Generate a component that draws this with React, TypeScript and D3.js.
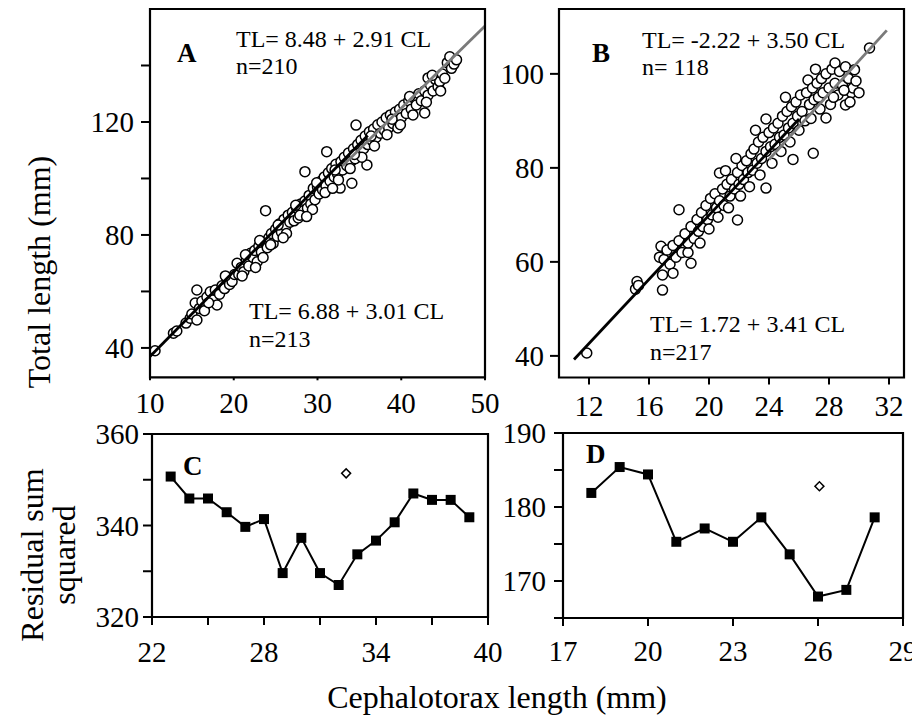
import React from "react";
import * as d3 from "d3";

// ---------- DATA ----------
// Panel A scatter: [cephalotorax length, total length]
const scatterA: [number, number][] = [
  [10.6,39.0],[12.8,45.2],[13.2,46.0],[14.3,48.8],[14.8,50.5],[15.0,52.0],[15.4,55.9],[15.6,49.9],[15.6,60.5],[15.9,54.0],
  [16.2,56.5],[16.5,53.2],[16.8,58.0],[17.2,59.9],[17.5,57.0],[17.8,60.5],[18.0,55.2],[18.3,59.0],[18.6,62.0],[18.9,61.0],
  [19.2,64.5],[19.5,62.5],[19.8,63.5],[20.1,66.0],[20.4,70.0],[20.6,66.0],[20.9,68.5],[21.2,67.0],[21.5,71.0],[21.8,69.0],
  [22.0,73.5],[22.3,72.0],[22.5,74.5],[22.8,70.5],[23.0,76.0],[23.3,74.0],[23.6,77.5],[23.8,88.6],[24.0,75.5],[24.2,79.0],
  [24.5,80.5],[24.7,77.0],[25.0,82.0],[25.2,79.5],[25.5,84.0],[25.7,81.0],[26.0,85.5],[26.2,83.0],[26.5,87.0],[26.7,84.5],
  [27.0,88.0],[27.2,85.0],[27.5,89.5],[27.7,86.0],[28.0,91.0],[28.2,88.5],[28.5,102.4],[28.5,92.0],[28.8,89.5],[29.0,94.0],
  [29.2,91.0],[29.5,96.5],[29.7,92.5],[30.0,97.0],[30.2,94.5],[30.4,99.0],[30.6,96.0],[30.8,100.5],[31.1,109.5],[31.0,97.5],
  [31.3,102.0],[31.5,99.0],[31.7,103.5],[32.0,100.5],[32.2,105.0],[32.4,101.5],[32.7,96.6],[32.8,106.0],[33.0,103.0],[33.2,107.5],
  [33.5,104.5],[33.7,109.0],[34.0,106.0],[34.1,98.3],[34.3,110.5],[34.6,118.9],[34.5,107.0],[34.8,112.0],[35.0,109.0],[35.2,113.5],
  [35.5,110.5],[35.7,115.0],[35.9,104.8],[36.0,112.0],[36.2,116.5],[36.5,113.5],[36.7,117.5],[37.0,114.5],[37.2,119.0],[37.5,116.0],
  [37.7,120.0],[38.0,117.0],[38.2,121.5],[38.5,118.0],[38.7,122.5],[39.0,119.5],[39.3,123.5],[39.6,117.9],[39.8,124.5],[40.0,121.5],
  [40.3,126.0],[40.6,123.0],[40.9,127.5],[41.2,124.5],[41.5,128.5],[41.8,126.0],[42.1,130.0],[42.4,127.5],[42.8,123.2],[42.8,131.0],
  [43.2,135.6],[43.2,129.5],[43.5,133.0],[43.8,131.0],[44.1,135.0],[44.4,132.5],[44.6,134.3],[44.9,137.0],[45.2,135.5],[45.5,141.0],
  [45.8,143.1],[46.0,139.0],[46.3,140.5],[46.6,142.0],
  [21.0,65.5],[22.6,68.5],[24.4,76.5],[26.3,80.5],[27.9,87.0],[29.4,89.0],[30.9,95.0],[32.5,99.5],[33.9,103.5],[35.3,107.5],
  [36.8,111.5],[38.3,115.5],[39.9,119.0],[41.4,122.5],[43.0,127.0],[44.7,131.0],[23.5,72.0],[25.9,79.0],[28.7,86.5],[31.8,96.5],
  [17.0,56.0],[19.0,65.5],[21.4,73.0],[23.1,78.0],[25.3,83.5],[27.4,90.5],[29.9,98.5],[32.1,103.0],[34.4,108.5],[36.4,115.0],
  [38.9,121.0],[41.0,129.0],[43.7,136.5]
];

// Panel B scatter: [cephalotorax length, total length]
const scatterB: [number, number][] = [
  [11.85,40.6],[15.1,54.2],[15.2,55.8],[15.3,55.0],[16.7,61.0],[16.8,63.3],[16.9,54.0],[16.9,57.2],[17.0,60.5],[17.2,62.5],
  [17.4,59.5],[17.6,57.6],[17.6,63.5],[17.8,61.0],[18.0,71.1],[18.0,64.5],[18.2,62.0],[18.4,66.0],[18.6,62.0],[18.6,64.0],
  [18.8,59.7],[18.8,67.5],[19.0,65.0],[19.2,69.0],[19.3,66.5],[19.5,70.5],[19.6,67.5],[19.8,72.0],[19.9,69.0],[20.1,73.5],
  [20.2,70.0],[20.4,74.5],[20.5,71.5],[20.7,78.9],[20.7,73.0],[20.9,75.5],[21.0,72.0],[21.1,79.4],[21.2,76.5],[21.4,74.0],
  [21.5,77.5],[21.7,75.5],[21.9,68.9],[21.9,79.0],[22.0,76.5],[22.2,80.5],[22.3,77.5],[22.5,81.5],[22.6,79.0],[22.8,83.0],
  [22.9,79.5],[23.0,84.0],[23.2,81.0],[23.3,85.5],[23.5,82.0],[23.6,86.5],[23.8,75.7],[23.8,90.4],[23.8,83.5],[24.0,87.5],
  [24.1,84.5],[24.3,88.5],[24.4,85.0],[24.6,89.5],[24.7,86.5],[24.9,91.0],[25.0,87.0],[25.2,92.0],[25.3,88.5],[25.5,93.0],
  [25.6,81.8],[25.6,89.5],[25.8,94.0],[25.9,91.0],[26.1,95.5],[26.2,92.0],[26.4,90.0],[26.6,98.7],[26.5,96.0],[26.7,93.5],
  [26.9,97.0],[26.95,83.1],[27.0,94.5],[27.2,98.0],[27.3,95.0],[27.5,99.0],[27.6,96.0],[27.8,90.6],[27.8,100.0],[28.0,97.0],
  [28.1,93.5],[28.2,101.0],[28.4,102.3],[28.4,98.0],[28.6,95.5],[28.7,100.5],[28.9,97.5],[29.1,93.4],[29.1,101.5],[29.3,99.0],
  [29.5,96.0],[29.6,97.0],[29.7,100.9],[29.8,98.5],[30.0,96.0],[30.7,105.5],
  [19.4,64.0],[20.0,67.0],[20.6,69.5],[21.3,71.5],[22.1,74.0],[22.7,76.0],[23.4,78.5],[24.2,81.0],[24.8,83.5],[25.4,85.5],
  [26.0,88.0],[26.8,90.5],[27.4,92.5],[28.3,95.0],[29.0,96.5],[29.4,94.0],[23.1,88.0],[21.8,82.0],[25.1,95.0],[27.1,101.0]
];

// Regression lines (intercept, slope, CL start, CL end)
const linesA = [
  { a: 6.88, b: 3.01, from: 10, to: 36, color: "#000" },
  { a: 8.48, b: 2.91, from: 33, to: 50, color: "#7a7a7a" },
];
const linesB = [
  { a: 1.72, b: 3.41, from: 11, to: 26, color: "#000" },
  { a: -2.22, b: 3.5, from: 24, to: 31.85, color: "#7a7a7a" },
];

// Panel C: residual sum squared
const cX = [23, 24, 25, 26, 27, 28, 29, 30, 31, 32, 33, 34, 35, 36, 37, 38, 39];
const cY = [350.7, 345.9, 345.9, 342.9, 339.7, 341.4, 329.6, 337.3, 329.6, 327.0, 333.7, 336.7, 340.7, 347.0, 345.6, 345.6, 341.8];
const cDiamond: [number, number] = [32.4, 351.4];

// Panel D: residual sum squared
const dX = [18, 19, 20, 21, 22, 23, 24, 25, 26, 27, 28];
const dY = [181.9, 185.4, 184.4, 175.3, 177.1, 175.3, 178.6, 173.6, 167.9, 168.8, 178.6];
const dDiamond: [number, number] = [26.05, 182.8];

// Ticks
const aXTicks = [10, 20, 30, 40, 50];
const aYTicks = [40, 60, 80, 100, 120, 140];
const aYLabels = [40, 80, 120];
const bXTicks = [12, 16, 20, 24, 28, 32];
const bYTicks = [40, 60, 80, 100];
const cXTicks = [22, 25, 28, 31, 34, 37, 40];
const cXLabels = [22, 28, 34, 40];
const cYTicks = [320, 330, 340, 350, 360];
const cYLabels = [320, 340, 360];
const dXTicks = [17, 20, 23, 26, 29];
const dYTicks = [165, 170, 175, 180, 185, 190];
const dYLabels = [170, 180, 190];

const FONT = "'Liberation Serif', 'Times New Roman', serif";
const TICK_FS = 29;
const EQ_FS = 24;

type Scale = d3.ScaleLinear<number, number>;

function Frame({ x, y }: { x: Scale; y: Scale }) {
  const [x0, x1] = x.range();
  const [y0, y1] = y.range();
  return (
    <path d={`M${x0},${y1}V${y0}H${x1}V${y1}Z`} fill="none" stroke="#000" strokeWidth={2.2} />
  );
}

function YAxis({ x, y, ticks, labels, len, labelX }: { x: Scale; y: Scale; ticks: number[]; labels: number[]; len: number; labelX: number }) {
  const x0 = x.range()[0];
  return (
    <g>
      {ticks.map((t) => (
        <line key={t} x1={x0 - len} x2={x0} y1={y(t)} y2={y(t)} stroke="#000" strokeWidth={2} />
      ))}
      {labels.map((t) => (
        <text key={t} x={labelX} y={y(t)} dy="0.35em" textAnchor="end" fontSize={TICK_FS} fontFamily={FONT}>
          {t}
        </text>
      ))}
    </g>
  );
}

function XAxis({ x, y, ticks, labels, len, labelY }: { x: Scale; y: Scale; ticks: number[]; labels: number[]; len: number; labelY: number }) {
  const y0 = y.range()[0];
  return (
    <g>
      {ticks.map((t) => (
        <line key={t} x1={x(t)} x2={x(t)} y1={y0} y2={y0 + len} stroke="#000" strokeWidth={2} />
      ))}
      {labels.map((t) => (
        <text key={t} x={x(t)} y={labelY} textAnchor="middle" fontSize={TICK_FS} fontFamily={FONT}>
          {t}
        </text>
      ))}
    </g>
  );
}

function Scatter({ x, y, data, lines }: { x: Scale; y: Scale; data: [number, number][]; lines: typeof linesA }) {
  return (
    <g>
      {data.map(([cl, tl], i) => (
        <circle key={i} cx={x(cl)} cy={y(tl)} r={5} fill="#fff" stroke="#000" strokeWidth={1.5} />
      ))}
      {lines.map((l, i) => {
        const pts: [number, number][] = [l.from, l.to].map((c) => [x(c), y(l.a + l.b * c)]);
        return <path key={i} d={d3.line()(pts) || ""} stroke={l.color} strokeWidth={2.8} fill="none" />;
      })}
    </g>
  );
}

function Residual({ x, y, xs, ys, diamond }: { x: Scale; y: Scale; xs: number[]; ys: number[]; diamond: [number, number] }) {
  const pts: [number, number][] = xs.map((v, i) => [x(v), y(ys[i])]);
  const sq = d3.symbol().type(d3.symbolSquare).size(100)();
  const dm = d3.symbol().type(d3.symbolSquare).size(40)();
  return (
    <g>
      <path d={d3.line()(pts) || ""} fill="none" stroke="#000" strokeWidth={2} />
      {pts.map(([px, py], i) => (
        <path key={i} d={sq || ""} transform={`translate(${px},${py})`} fill="#000" />
      ))}
      <path d={dm || ""} transform={`translate(${x(diamond[0])},${y(diamond[1])}) rotate(45)`} fill="#fff" stroke="#000" strokeWidth={1.5} />
    </g>
  );
}

export default function App() {
  const xA = d3.scaleLinear().domain([10, 50]).range([150, 485]);
  const yA = d3.scaleLinear().domain([29.6, 160]).range([377.3, 9]);
  const xB = d3.scaleLinear().domain([10, 33]).range([559, 904]);
  const yB = d3.scaleLinear().domain([35.4, 113.8]).range([377.5, 9]);
  const xC = d3.scaleLinear().domain([22, 40]).range([152, 488]);
  const yC = d3.scaleLinear().domain([320, 360]).range([617, 434]);
  const xD = d3.scaleLinear().domain([17, 29]).range([563, 903]);
  const yD = d3.scaleLinear().domain([165, 190]).range([618, 433]);

  const eq = (x: number, y: number, t: string) => (
    <text x={x} y={y} fontSize={EQ_FS} fontFamily={FONT}>{t}</text>
  );
  const letter = (x: number, y: number, t: string) => (
    <text x={x} y={y} fontSize={27} fontWeight="bold" fontFamily={FONT}>{t}</text>
  );

  return (
    <svg width={912} height={724} style={{ position: "absolute", left: 0, top: 0, background: "#fff" }}>
      <rect width={912} height={724} fill="#fff" />
      {/* Panel A */}
      <Scatter x={xA} y={yA} data={scatterA} lines={linesA} />
      <Frame x={xA} y={yA} />
      <YAxis x={xA} y={yA} ticks={aYTicks} labels={aYLabels} len={9} labelX={134} />
      <XAxis x={xA} y={yA} ticks={aXTicks} labels={aXTicks} len={3} labelY={413} />
      {letter(177, 62, "A")}
      {eq(236, 47, "TL= 8.48 + 2.91 CL")}
      {eq(236, 74, "n=210")}
      {eq(249, 319, "TL= 6.88 + 3.01 CL")}
      {eq(249, 347, "n=213")}

      {/* Panel B */}
      <Scatter x={xB} y={yB} data={scatterB} lines={linesB} />
      <Frame x={xB} y={yB} />
      <YAxis x={xB} y={yB} ticks={bYTicks} labels={bYTicks} len={9} labelX={544} />
      <XAxis x={xB} y={yB} ticks={bXTicks} labels={bXTicks} len={7} labelY={416} />
      {letter(592, 62, "B")}
      {eq(642, 48, "TL= -2.22 + 3.50 CL")}
      {eq(642, 75, "n= 118")}
      {eq(650, 332, "TL= 1.72 + 3.41 CL")}
      {eq(650, 360, "n=217")}

      {/* Panel C */}
      <Frame x={xC} y={yC} />
      <Residual x={xC} y={yC} xs={cX} ys={cY} diamond={cDiamond} />
      <YAxis x={xC} y={yC} ticks={cYTicks} labels={cYLabels} len={9} labelX={139} />
      <XAxis x={xC} y={yC} ticks={cXTicks} labels={cXLabels} len={8} labelY={662} />
      {letter(183, 475, "C")}

      {/* Panel D */}
      <Frame x={xD} y={yD} />
      <Residual x={xD} y={yD} xs={dX} ys={dY} diamond={dDiamond} />
      <YAxis x={xD} y={yD} ticks={dYTicks} labels={dYLabels} len={9} labelX={546} />
      <XAxis x={xD} y={yD} ticks={dXTicks} labels={dXTicks} len={8} labelY={661} />
      {letter(586, 463, "D")}

      {/* Axis titles */}
      <text transform="translate(50,272) rotate(-90)" textAnchor="middle" fontSize={32} fontFamily={FONT}>
        Total length (mm)
      </text>
      <text transform="translate(43,555) rotate(-90)" textAnchor="middle" fontSize={32} fontFamily={FONT}>
        Residual sum
      </text>
      <text transform="translate(75,555) rotate(-90)" textAnchor="middle" fontSize={32} fontFamily={FONT}>
        squared
      </text>
      <text x={497} y={708} textAnchor="middle" fontSize={32} fontFamily={FONT}>
        Cephalotorax length (mm)
      </text>
    </svg>
  );
}
